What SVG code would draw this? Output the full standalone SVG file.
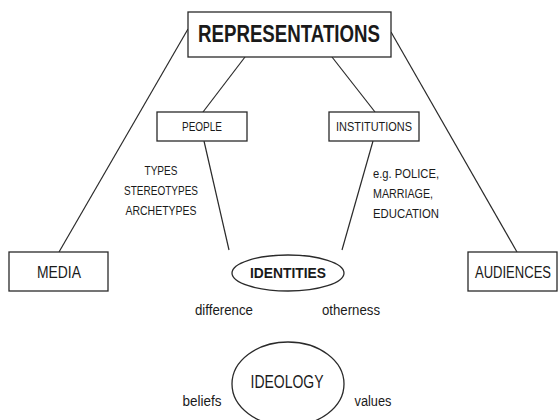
<svg xmlns="http://www.w3.org/2000/svg" width="560" height="420" viewBox="0 0 560 420">
<style>
  .box { fill: #fff; stroke: #2a2a2a; stroke-width: 1.3; }
  .conn line { stroke: #2a2a2a; stroke-width: 1.2; fill: none; }
  text { font-family: "Liberation Sans", Arial, sans-serif; fill: #1a1a1a; }
  .b { font-weight: bold; }
</style>
<rect width="560" height="420" fill="#fff"/>
<g id="connectors" class="conn">
  <line x1="188" y1="29" x2="59" y2="252"/>
  <line x1="391" y1="32" x2="517" y2="252"/>
  <line x1="245" y1="57" x2="203" y2="112"/>
  <line x1="332" y1="57" x2="375" y2="112"/>
  <line x1="204" y1="141" x2="229" y2="250"/>
  <line x1="373" y1="141" x2="342" y2="250"/>
</g>
<g id="representations">
  <rect class="box" x="188" y="12" width="203" height="45"/>
  <text class="b" x="289" y="42" font-size="23" text-anchor="middle" textLength="182" lengthAdjust="spacingAndGlyphs">REPRESENTATIONS</text>
</g>
<g id="people">
  <rect class="box" x="157" y="112" width="90" height="29"/>
  <text x="202" y="131" font-size="13.5" text-anchor="middle" textLength="40" lengthAdjust="spacingAndGlyphs">PEOPLE</text>
</g>
<g id="institutions">
  <rect class="box" x="329" y="112" width="90" height="29"/>
  <text x="374" y="131" font-size="13.5" text-anchor="middle" textLength="76" lengthAdjust="spacingAndGlyphs">INSTITUTIONS</text>
</g>
<g id="people-types">
  <text x="161" y="175" font-size="13.5" text-anchor="middle" textLength="33" lengthAdjust="spacingAndGlyphs">TYPES</text>
  <text x="161" y="195" font-size="13.5" text-anchor="middle" textLength="74" lengthAdjust="spacingAndGlyphs">STEREOTYPES</text>
  <text x="161" y="215" font-size="13.5" text-anchor="middle" textLength="71" lengthAdjust="spacingAndGlyphs">ARCHETYPES</text>
</g>
<g id="institution-examples">
  <text x="373" y="178" font-size="13.5" textLength="66" lengthAdjust="spacingAndGlyphs">e.g. POLICE,</text>
  <text x="373" y="198" font-size="13.5" textLength="60" lengthAdjust="spacingAndGlyphs">MARRIAGE,</text>
  <text x="373" y="218" font-size="13.5" textLength="66" lengthAdjust="spacingAndGlyphs">EDUCATION</text>
</g>
<g id="media">
  <rect class="box" x="9" y="252" width="99" height="39"/>
  <text x="59" y="278" font-size="16.5" text-anchor="middle" textLength="44" lengthAdjust="spacingAndGlyphs">MEDIA</text>
</g>
<g id="audiences">
  <rect class="box" x="468" y="252" width="89" height="39"/>
  <text transform="translate(513 278) scale(0.79 1)" x="0" y="0" font-size="16.5" text-anchor="middle">AUDIENCES</text>
</g>
<g id="identities">
  <ellipse class="box" cx="288" cy="273" rx="56" ry="18"/>
  <text class="b" x="288" y="278" font-size="15" text-anchor="middle" textLength="76" lengthAdjust="spacingAndGlyphs">IDENTITIES</text>
</g>
<g id="identity-labels">
  <text x="224" y="315" font-size="14" text-anchor="middle" textLength="58" lengthAdjust="spacingAndGlyphs">difference</text>
  <text x="351" y="315" font-size="14" text-anchor="middle" textLength="58" lengthAdjust="spacingAndGlyphs">otherness</text>
</g>
<g id="ideology">
  <ellipse class="box" cx="288" cy="384" rx="56" ry="42"/>
  <text x="287" y="388" font-size="17.5" text-anchor="middle" textLength="73" lengthAdjust="spacingAndGlyphs">IDEOLOGY</text>
</g>
<g id="ideology-labels">
  <text x="202" y="406" font-size="14" text-anchor="middle" textLength="39" lengthAdjust="spacingAndGlyphs">beliefs</text>
  <text x="373" y="406" font-size="14" text-anchor="middle" textLength="37" lengthAdjust="spacingAndGlyphs">values</text>
</g>
</svg>
